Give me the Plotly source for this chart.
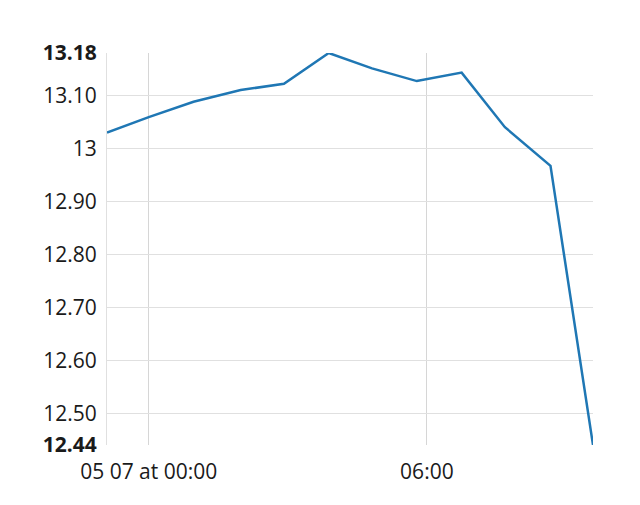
import plotly.graph_objects as go

times = ["2024-05-06 23:06", "2024-05-07 00:00", "2024-05-07 00:58", "2024-05-07 01:59",
         "2024-05-07 02:55", "2024-05-07 03:53", "2024-05-07 04:49", "2024-05-07 05:47",
         "2024-05-07 06:45", "2024-05-07 07:41", "2024-05-07 08:40", "2024-05-07 09:35"]
values = [13.030, 13.059, 13.088, 13.110, 13.122, 13.18, 13.151, 13.127, 13.143, 13.040, 12.967, 12.44]

y_tickvals = [12.44, 12.50, 12.60, 12.70, 12.80, 12.90, 13.0, 13.10, 13.18]
y_ticktext = ["<b>12.44</b>", "12.50", "12.60", "12.70", "12.80", "12.90", "13", "13.10", "<b>13.18</b>"]
x_tickvals = ["2024-05-07 00:00", "2024-05-07 06:00"]
x_ticktext = ["05 07 at 00:00", "06:00"]

fig = go.Figure()
fig.add_trace(go.Scatter(x=times, y=values, mode="lines",
                         line=dict(color="#1f77b4", width=2.5), showlegend=False))

fig.update_layout(
    width=632, height=497,
    margin=dict(l=99, r=47, t=45, b=60),
    plot_bgcolor="white", paper_bgcolor="white",
    font=dict(family="Open Sans", size=21, color="#1a1a1a"),
)
fig.update_xaxes(range=[times[0], times[-1]], tickvals=x_tickvals, ticktext=x_ticktext,
                 showgrid=True, gridcolor="#d6d6d6", gridwidth=1, zeroline=False,
                 showline=False, ticks="", ticklabelstandoff=12)
fig.update_yaxes(range=[12.44, 13.18], tickvals=y_tickvals, ticktext=y_ticktext,
                 showgrid=True, gridcolor="#e0e0e0", gridwidth=1, zeroline=False,
                 showline=True, linecolor="#e0e0e0", linewidth=1, ticks="", ticklabelstandoff=5)

fig.write_html("out.html")
